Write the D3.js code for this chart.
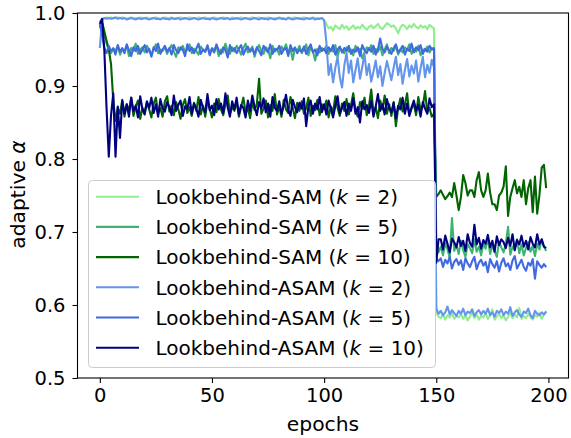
<!DOCTYPE html>
<html><head><meta charset="utf-8">
<script src="https://cdn.jsdelivr.net/npm/d3@7"></script>
<style>
body{margin:0;background:#fff}
text{font-family:"DejaVu Sans",sans-serif;fill:#000}
</style>
</head><body>
<svg id="chart" width="571" height="438"></svg>
<script>
// Adaptive alpha per epoch for each Lookbehind variant
const samK2 = [
.985,.992,.993,.994,.993,.994,.992,.993,.994,.993,
.994,.993,.992,.993,.994,.993,.993,.992,.994,.993,
.993,.994,.992,.993,.993,.994,.993,.992,.993,.994,
.993,.993,.994,.992,.993,.993,.994,.993,.992,.993,
.994,.993,.993,.992,.994,.993,.993,.994,.992,.993,
.993,.994,.993,.992,.993,.994,.993,.993,.992,.994,
.993,.992,.993,.994,.993,.993,.992,.993,.994,.993,
.993,.994,.992,.993,.993,.994,.993,.992,.993,.993,
.994,.993,.993,.992,.994,.993,.993,.994,.992,.993,
.993,.994,.993,.992,.993,.994,.993,.993,.992,.993,
.990,.985,.979,.981,.976,.983,.980,.978,.984,.979,
.982,.977,.980,.983,.978,.981,.979,.984,.980,.977,
.981,.983,.979,.982,.985,.980,.978,.982,.986,.984,
.981,.983,.979,.972,.980,.984,.982,.978,.983,.980,
.985,.981,.979,.983,.980,.982,.978,.984,.981,.979,
.590,.584,.582,.587,.580,.586,.583,.589,.581,.585,
.583,.588,.581,.586,.579,.584,.590,.582,.587,.580,
.585,.583,.589,.581,.586,.594,.580,.584,.588,.582,
.586,.579,.584,.590,.582,.587,.583,.596,.581,.585,
.582,.588,.583,.580,.586,.584,.589,.581,.587,.592];

const samK5 = [
.990,.986,.972,.958,.950,.945,.952,.948,.955,.943,
.950,.947,.956,.941,.952,.948,.958,.944,.950,.953,
.946,.955,.949,.942,.951,.957,.945,.950,.948,.954,
.944,.951,.956,.947,.940,.953,.949,.955,.946,.950,
.957,.945,.951,.948,.943,.954,.950,.947,.956,.944,
.952,.949,.955,.941,.950,.946,.958,.948,.944,.953,
.947,.955,.950,.943,.952,.958,.946,.949,.954,.940,
.951,.956,.948,.944,.953,.950,.938,.955,.947,.951,
.943,.954,.949,.957,.946,.951,.936,.952,.948,.955,
.945,.950,.957,.942,.953,.948,.935,.951,.946,.952,
.949,.955,.944,.951,.947,.956,.940,.952,.948,.945,
.953,.947,.950,.942,.955,.948,.951,.938,.946,.953,
.949,.956,.944,.951,.947,.954,.942,.950,.957,.945,
.952,.948,.955,.943,.950,.946,.953,.949,.957,.944,
.951,.947,.955,.942,.950,.948,.954,.946,.952,.949,
.690,.672,.680,.668,.685,.676,.665,.719,.674,.682,
.670,.688,.675,.666,.683,.678,.671,.690,.673,.680,
.668,.685,.677,.692,.670,.681,.674,.666,.687,.679,
.672,.684,.707,.669,.680,.676,.690,.671,.683,.668,
.678,.686,.673,.681,.667,.684,.676,.690,.680,.674];

const samK10 = [
.980,.988,.975,.962,.950,.930,.880,.852,.870,.862,
.881,.858,.875,.866,.884,.859,.872,.880,.855,.870,
.864,.878,.868,.857,.876,.884,.862,.870,.858,.879,
.886,.865,.873,.860,.878,.868,.855,.874,.882,.863,
.871,.859,.877,.866,.885,.861,.873,.858,.880,.869,
.857,.876,.864,.882,.868,.860,.875,.887,.862,.871,
.866,.879,.858,.872,.884,.863,.870,.856,.878,.867,
.875,.910,.862,.869,.880,.857,.874,.866,.889,.861,
.872,.858,.881,.868,.863,.885,.870,.856,.877,.866,
.879,.862,.870,.884,.859,.873,.867,.881,.860,.875,
.868,.880,.857,.872,.864,.886,.870,.859,.876,.866,
.882,.861,.874,.890,.866,.858,.878,.869,.884,.860,
.873,.895,.864,.871,.856,.880,.868,.887,.862,.875,
.859,.878,.845,.870,.883,.865,.874,.890,.861,.869,
.876,.860,.885,.867,.872,.893,.864,.870,.858,.862,
.748,.752,.757,.751,.745,.749,.754,.748,.767,.750,
.730,.748,.778,.767,.750,.757,.757,.748,.771,.782,
.757,.748,.757,.780,.754,.738,.738,.730,.750,.754,
.762,.790,.722,.748,.760,.771,.753,.762,.748,.771,
.738,.760,.771,.727,.776,.725,.751,.788,.792,.760];

const asamK2 = [
.952,.990,.993,.992,.993,.992,.993,.994,.992,.993,
.992,.993,.991,.992,.993,.992,.991,.993,.992,.992,
.993,.992,.991,.992,.993,.992,.992,.991,.993,.992,
.992,.991,.993,.992,.992,.993,.991,.992,.993,.992,
.991,.992,.993,.992,.991,.992,.993,.992,.992,.991,
.993,.992,.991,.992,.993,.992,.992,.993,.991,.992,
.992,.993,.992,.991,.992,.993,.992,.991,.992,.993,
.992,.991,.993,.992,.992,.991,.993,.992,.991,.992,
.993,.992,.992,.991,.993,.992,.991,.992,.993,.992,
.992,.991,.993,.992,.992,.993,.991,.992,.992,.993,
.990,.960,.915,.930,.905,.925,.940,.912,.898,.928,
.945,.918,.935,.905,.922,.938,.910,.926,.944,.915,
.930,.906,.920,.935,.912,.927,.900,.918,.934,.921,
.908,.925,.940,.915,.930,.903,.922,.937,.913,.928,
.917,.935,.906,.924,.940,.912,.929,.918,.936,.925,
.595,.588,.592,.586,.590,.598,.587,.593,.589,.585,
.592,.588,.595,.586,.591,.589,.594,.585,.590,.593,
.587,.592,.588,.595,.586,.590,.584,.592,.589,.594,
.586,.591,.588,.597,.585,.590,.593,.587,.584,.591,
.589,.595,.586,.582,.592,.588,.586,.590,.587,.591];

const asamK5 = [
.985,.970,.952,.945,.955,.948,.951,.943,.956,.947,
.952,.945,.957,.949,.941,.953,.948,.955,.944,.950,
.956,.946,.951,.940,.953,.948,.958,.944,.950,.955,
.947,.952,.943,.956,.949,.945,.953,.950,.941,.957,
.948,.953,.945,.951,.958,.944,.950,.947,.955,.942,
.951,.946,.957,.949,.944,.953,.950,.939,.956,.948,
.952,.945,.951,.956,.943,.950,.954,.947,.951,.944,
.953,.948,.942,.955,.950,.946,.957,.944,.951,.949,
.955,.944,.950,.952,.941,.956,.948,.953,.945,.950,
.947,.954,.944,.951,.957,.946,.950,.942,.955,.948,
.951,.945,.953,.948,.956,.943,.950,.954,.946,.952,
.948,.955,.944,.950,.947,.953,.941,.956,.949,.945,
.952,.947,.955,.943,.950,.965,.951,.946,.954,.949,
.944,.952,.957,.946,.950,.955,.943,.951,.948,.958,
.946,.953,.949,.956,.944,.951,.947,.955,.950,.952,
.664,.660,.664,.652,.662,.657,.666,.650,.659,.663,
.655,.661,.648,.664,.657,.652,.660,.666,.649,.658,
.662,.654,.659,.645,.663,.656,.651,.660,.646,.658,
.664,.653,.657,.648,.661,.667,.650,.656,.662,.652,
.647,.658,.654,.663,.636,.660,.655,.651,.656,.652];

const asamK10 = [
.985,.992,.950,.870,.803,.860,.890,.803,.872,.829,
.880,.862,.875,.858,.884,.866,.873,.857,.886,.868,
.861,.879,.870,.884,.863,.875,.858,.882,.869,.865,
.878,.871,.860,.887,.866,.874,.880,.859,.872,.868,
.885,.862,.876,.869,.858,.881,.870,.864,.889,.867,
.873,.860,.882,.868,.876,.863,.890,.871,.858,.879,
.868,.884,.861,.874,.870,.857,.880,.866,.887,.872,
.860,.878,.869,.883,.864,.876,.858,.885,.870,.866,
.879,.862,.873,.888,.867,.859,.881,.871,.864,.877,
.869,.883,.845,.872,.880,.862,.876,.868,.885,.864,
.875,.861,.880,.869,.857,.873,.886,.862,.870,.878,
.859,.876,.866,.883,.862,.871,.850,.879,.868,.874,
.863,.880,.858,.872,.889,.866,.875,.861,.882,.870,
.864,.877,.856,.873,.868,.884,.862,.876,.859,.871,
.880,.866,.874,.858,.878,.869,.862,.883,.871,.875,
.658,.690,.690,.676,.695,.684,.672,.691,.686,.679,
.693,.681,.688,.674,.697,.685,.680,.710,.683,.692,
.677,.689,.684,.696,.679,.688,.673,.694,.682,.690,
.686,.678,.692,.681,.697,.675,.689,.683,.695,.680,
.688,.676,.693,.684,.679,.697,.683,.690,.680,.678];

const labels = ["Lookbehind-SAM", "Lookbehind-SAM", "Lookbehind-SAM",
                "Lookbehind-ASAM", "Lookbehind-ASAM", "Lookbehind-ASAM"];
const kValues = [2, 5, 10, 2, 5, 10];
const colors = ["lightgreen", "mediumseagreen", "darkgreen",
                "cornflowerblue", "royalblue", "navy"];
const seriesValues = [samK2, samK5, samK10, asamK2, asamK5, asamK10];
const xTicks = [0, 50, 100, 150, 200];
const yTicks = [0.5, 0.6, 0.7, 0.8, 0.9, 1.0];

const margin = {left: 77.5, right: 568.5, top: 13, bottom: 378};
const tickFont = 19.5, labelFont = 20.3, legendFont = 20;

const svg = d3.select("#chart");
const x = d3.scaleLinear().domain([-9.95, 208.95]).range([margin.left, margin.right]);
const y = d3.scaleLinear().domain([0.5, 1.0]).range([margin.bottom, margin.top]);

svg.append("defs").append("clipPath").attr("id", "plot-clip")
  .append("rect")
  .attr("x", margin.left).attr("y", margin.top)
  .attr("width", margin.right - margin.left)
  .attr("height", margin.bottom - margin.top);

const line = d3.line().x((d, i) => x(i)).y(d => y(d));

const plot = svg.append("g").attr("clip-path", "url(#plot-clip)");
seriesValues.forEach((vals, i) => {
  plot.append("path")
    .datum(vals)
    .attr("d", line)
    .attr("fill", "none")
    .attr("stroke", colors[i])
    .attr("stroke-width", 2.1)
    .attr("stroke-linejoin", "round");
});

// Axes
const xAxis = svg.append("g")
  .attr("transform", `translate(0,${margin.bottom})`)
  .call(d3.axisBottom(x).tickValues(xTicks).tickFormat(d3.format("d"))
        .tickSize(5).tickPadding(5.5));
const yAxis = svg.append("g")
  .attr("transform", `translate(${margin.left},0)`)
  .call(d3.axisLeft(y).tickValues(yTicks).tickFormat(d3.format(".1f"))
        .tickSize(5).tickPadding(7));
[xAxis, yAxis].forEach(g => {
  g.select(".domain").remove();
  g.selectAll(".tick line").attr("stroke", "#000").attr("stroke-width", 1.1);
  g.selectAll(".tick text").attr("font-size", tickFont)
    .attr("font-family", "DejaVu Sans").attr("fill", "#000");
});

// Frame
svg.append("rect")
  .attr("x", margin.left).attr("y", margin.top)
  .attr("width", margin.right - margin.left)
  .attr("height", margin.bottom - margin.top)
  .attr("fill", "none").attr("stroke", "#000").attr("stroke-width", 1.1);

// Axis labels
svg.append("text")
  .attr("x", (margin.left + margin.right) / 2).attr("y", 431)
  .attr("text-anchor", "middle").attr("font-size", labelFont)
  .text("epochs");

const yl = svg.append("text")
  .attr("transform", `translate(24.5,${(margin.top + margin.bottom) / 2 - 1}) rotate(-90)`)
  .attr("text-anchor", "middle").attr("font-size", labelFont);
yl.append("tspan").text("adaptive ");
yl.append("tspan").attr("font-style", "italic").text("α");

// Legend
const lg = svg.append("g");
lg.append("rect")
  .attr("x", 88.5).attr("y", 180.5).attr("width", 347).attr("height", 187)
  .attr("rx", 4).attr("ry", 4)
  .attr("fill", "#fff").attr("fill-opacity", 0.8)
  .attr("stroke", "#cccccc").attr("stroke-width", 1);

labels.forEach((lab, i) => {
  const cy = 196.7 + i * 30.2;
  lg.append("line")
    .attr("x1", 96).attr("x2", 139).attr("y1", cy).attr("y2", cy)
    .attr("stroke", colors[i]).attr("stroke-width", 2.1);
  const t = lg.append("text")
    .attr("x", 155.5).attr("y", cy).attr("dy", "0.36em")
    .attr("font-size", legendFont);
  t.append("tspan").text(lab + " (");
  t.append("tspan").attr("font-style", "italic").text("k");
  t.append("tspan").text(" = " + kValues[i] + ")");
});
</script>
</body></html>
